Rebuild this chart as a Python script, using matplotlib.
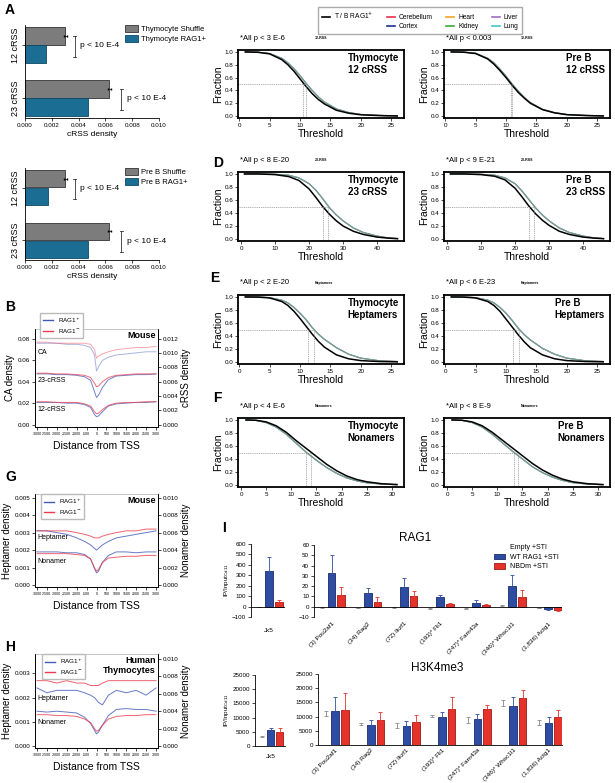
import matplotlib
matplotlib.use('Agg')
import matplotlib.pyplot as plt
from matplotlib.lines import Line2D
from matplotlib.patches import Patch
import numpy as np

plt.rcParams['font.family'] = ['Liberation Sans', 'DejaVu Sans']
plt.rcParams['axes.linewidth'] = 0.6
plt.rcParams['xtick.major.width'] = 0.5
plt.rcParams['ytick.major.width'] = 0.5
plt.rcParams['xtick.major.size'] = 2
plt.rcParams['ytick.major.size'] = 2
plt.rcParams['xtick.major.pad'] = 1.5
plt.rcParams['ytick.major.pad'] = 1.5

# ---------------- data ----------------
# A: cRSS density (12 cRSS, 23 cRSS)
thy_shuffle = [0.0030, 0.0063]
thy_shuffle_err = [0.0001, 0.0001]
thy_rag = [0.0016, 0.0047]
preb_shuffle = [0.0030, 0.0063]
preb_shuffle_err = [0.0001, 0.0001]
preb_rag = [0.0017, 0.0047]

# C-F: cumulative fraction vs threshold
tissues = ['Cerebellum', 'Cortex', 'Heart', 'Kidney', 'Liver', 'Lung']
x12 = [1, 3, 5, 7, 8, 9, 10, 11, 12, 13, 14, 16, 18, 20, 23, 26]
thy12_black = [1.00, 0.995, 0.97, 0.88, 0.80, 0.70, 0.58, 0.46, 0.35, 0.26, 0.19, 0.09, 0.045, 0.02, 0.008, 0.002]
thy12_tissue = [1.00, 0.997, 0.975, 0.90, 0.83, 0.74, 0.63, 0.51, 0.40, 0.30, 0.22, 0.11, 0.055, 0.025, 0.010, 0.003]
thy12_guides = [10.5, 11.0]
preb12_black = [1.00, 0.996, 0.975, 0.89, 0.81, 0.71, 0.60, 0.48, 0.37, 0.28, 0.20, 0.10, 0.05, 0.022, 0.009, 0.002]
preb12_tissue = [1.00, 0.997, 0.978, 0.90, 0.83, 0.73, 0.62, 0.50, 0.39, 0.29, 0.21, 0.105, 0.052, 0.024, 0.010, 0.003]
preb12_guides = [10.8, 11.0]

x23 = [1, 5, 10, 14, 17, 20, 22, 24, 26, 28, 30, 33, 36, 40, 43, 46]
thy23_black = [1.00, 1.00, 0.99, 0.96, 0.90, 0.77, 0.64, 0.50, 0.38, 0.28, 0.20, 0.12, 0.07, 0.03, 0.015, 0.005]
thy23_tissue = [1.00, 1.00, 0.995, 0.98, 0.94, 0.85, 0.75, 0.62, 0.48, 0.37, 0.28, 0.17, 0.10, 0.045, 0.02, 0.008]
thy23_guides = [24.0, 25.7]
preb23_black = [1.00, 1.00, 0.99, 0.965, 0.91, 0.78, 0.65, 0.51, 0.39, 0.29, 0.21, 0.12, 0.07, 0.03, 0.015, 0.005]
preb23_tissue = [1.00, 1.00, 0.995, 0.98, 0.94, 0.85, 0.74, 0.61, 0.48, 0.37, 0.28, 0.17, 0.10, 0.045, 0.02, 0.008]
preb23_guides = [24.1, 25.6]

xhep = [1, 3, 5, 7, 8, 9, 10, 11, 12, 13, 14, 16, 18, 20, 23, 26]
thyhep_black = [1.00, 0.998, 0.985, 0.93, 0.87, 0.78, 0.67, 0.55, 0.43, 0.32, 0.23, 0.11, 0.05, 0.022, 0.008, 0.003]
thyhep_tissue = [1.00, 0.999, 0.99, 0.95, 0.91, 0.84, 0.75, 0.65, 0.53, 0.43, 0.35, 0.22, 0.12, 0.06, 0.02, 0.008]
thyhep_guides = [11.3, 12.3]
prebhep_black = [1.00, 0.998, 0.985, 0.93, 0.87, 0.78, 0.66, 0.54, 0.42, 0.31, 0.22, 0.11, 0.05, 0.022, 0.008, 0.003]
prebhep_tissue = [1.00, 0.999, 0.99, 0.95, 0.91, 0.84, 0.75, 0.64, 0.52, 0.42, 0.34, 0.21, 0.12, 0.06, 0.02, 0.008]
prebhep_guides = [11.2, 12.2]

xnon = [1, 3, 5, 7, 9, 11, 13, 14, 15, 17, 19, 21, 23, 25, 28, 31]
thynon_black = [1.00, 0.995, 0.97, 0.91, 0.81, 0.68, 0.56, 0.50, 0.44, 0.32, 0.22, 0.14, 0.085, 0.05, 0.02, 0.008]
thynon_tissue = [1.00, 0.993, 0.96, 0.89, 0.78, 0.64, 0.50, 0.44, 0.38, 0.27, 0.18, 0.11, 0.065, 0.035, 0.015, 0.005]
thynon_guides = [13.0, 14.0]
prebnon_black = [1.00, 0.995, 0.97, 0.91, 0.81, 0.69, 0.57, 0.51, 0.45, 0.33, 0.23, 0.15, 0.09, 0.05, 0.02, 0.008]
prebnon_tissue = [1.00, 0.993, 0.96, 0.89, 0.78, 0.65, 0.52, 0.46, 0.40, 0.28, 0.19, 0.12, 0.07, 0.037, 0.015, 0.005]
prebnon_guides = [13.3, 14.1]

# B, G, H: density around TSS
tss_x = [-3000, -2500, -2000, -1500, -1000, -600, -300, -100, 0, 100, 300, 600, 1000, 1500, 2000, 2500, 3000]
ca_pos = [0.076, 0.076, 0.076, 0.075, 0.075, 0.074, 0.072, 0.065, 0.050, 0.054, 0.060, 0.063, 0.065, 0.066, 0.067, 0.068, 0.068]
ca_neg = [0.077, 0.077, 0.076, 0.076, 0.076, 0.076, 0.075, 0.070, 0.062, 0.064, 0.066, 0.068, 0.070, 0.071, 0.072, 0.072, 0.073]
c23_pos = [0.0071, 0.0071, 0.0070, 0.0070, 0.0069, 0.0067, 0.0062, 0.0046, 0.0038, 0.0041, 0.0052, 0.0063, 0.0068, 0.0069, 0.0070, 0.0070, 0.0071]
c23_neg = [0.0072, 0.0072, 0.0071, 0.0071, 0.0070, 0.0069, 0.0066, 0.0058, 0.0053, 0.0054, 0.0060, 0.0066, 0.0069, 0.0070, 0.0071, 0.0071, 0.0071]
c12_pos = [0.0031, 0.0031, 0.0031, 0.0030, 0.0030, 0.0028, 0.0024, 0.0014, 0.0011, 0.0012, 0.0018, 0.0026, 0.0029, 0.0030, 0.0031, 0.0031, 0.0032]
c12_neg = [0.0032, 0.0032, 0.0031, 0.0031, 0.0031, 0.0029, 0.0026, 0.0018, 0.0015, 0.0016, 0.0021, 0.0027, 0.0030, 0.0031, 0.0031, 0.0032, 0.0032]

ms_hep_pos = [0.0031, 0.0031, 0.0030, 0.0029, 0.0027, 0.0025, 0.0023, 0.0021, 0.0020, 0.0021, 0.0023, 0.0025, 0.0027, 0.0028, 0.0029, 0.0030, 0.0031]
ms_hep_neg = [0.0031, 0.0031, 0.0031, 0.0031, 0.0030, 0.0029, 0.0028, 0.0027, 0.0027, 0.0027, 0.0028, 0.0029, 0.0030, 0.0031, 0.0031, 0.0032, 0.0032]
ms_non_pos = [0.0038, 0.0038, 0.0038, 0.0037, 0.0037, 0.0035, 0.0030, 0.0019, 0.0014, 0.0016, 0.0026, 0.0034, 0.0038, 0.0038, 0.0037, 0.0038, 0.0038]
ms_non_neg = [0.0036, 0.0036, 0.0036, 0.0036, 0.0035, 0.0034, 0.0030, 0.0020, 0.0016, 0.0018, 0.0026, 0.0031, 0.0032, 0.0033, 0.0033, 0.0034, 0.0034]

hs_hep_pos = [0.0024, 0.0022, 0.0023, 0.0023, 0.0023, 0.0022, 0.0021, 0.0020, 0.0019, 0.0018, 0.0017, 0.0021, 0.0023, 0.0022, 0.0023, 0.0021, 0.0024]
hs_hep_neg = [0.0027, 0.0027, 0.0026, 0.0027, 0.0026, 0.0026, 0.0025, 0.0025, 0.0025, 0.0025, 0.0026, 0.0027, 0.0027, 0.0027, 0.0027, 0.0027, 0.0027]
hs_non_pos = [0.0040, 0.0039, 0.0040, 0.0039, 0.0038, 0.0033, 0.0026, 0.0018, 0.0014, 0.0016, 0.0024, 0.0035, 0.0042, 0.0043, 0.0042, 0.0042, 0.0040]
hs_non_neg = [0.0036, 0.0036, 0.0035, 0.0035, 0.0034, 0.0031, 0.0027, 0.0020, 0.0017, 0.0018, 0.0024, 0.0031, 0.0034, 0.0035, 0.0035, 0.0036, 0.0036]

# I: ChIP
genes = ['(3) Pou2af1', '(34) Rag2', '(72) Ikzf1', '(193)* Fli1', '(247)* Fam43a', '(346)* Whsc1l1', '(1,836) Actg1']
rag_jk = [-5, 345, 45]
rag_jk_err = [3, 135, 20]
rag_empty = [-0.5, -1.0, -0.5, -1.5, -1.5, 1.0, -0.8]
rag_empty_err = [0.3, 0.3, 0.3, 0.3, 0.3, 1.0, 0.3]
rag_wt = [33, 13, 19, 9.5, 4, 20, -2]
rag_wt_err = [17, 5.5, 9, 2, 3, 11, 1]
rag_nb = [11.5, 4.5, 10, 3, 1.5, 9.5, -3.5]
rag_nb_err = [8, 4.5, 5, 1, 1.5, 7, 1]
h3_jk = [3300, 5500, 5000]
h3_jk_err = [200, 1000, 1500]
h3_empty = [10300, 7000, 6000, 9800, 7700, 13900, 7000]
h3_empty_err = [1800, 900, 1600, 900, 2200, 1900, 1800]
h3_wt = [11800, 7200, 6800, 9800, 9000, 13800, 7800]
h3_wt_err = [5000, 1600, 1600, 1900, 2000, 3100, 1900]
h3_nb = [12500, 8700, 8200, 12700, 12800, 16400, 9800]
h3_nb_err = [5800, 2800, 2300, 4100, 1200, 2800, 2600]

# ---------------- styles ----------------
GRAY = '#7c7c7c'
TEAL = '#1b6d93'
LBLUE = '#4058b8'
LRED = '#ee3a4c'
CBLUE = '#2f4ca3'
CRED = '#e5322b'
TCOL = ['#e8304a', '#1f2f8f', '#f2a51f', '#3aa935', '#9b6fc4', '#3ec6c6']

W, H = 615, 783
fig = plt.figure(figsize=(W / 100, H / 100), dpi=100)


def box(l, t, w, h):
    return fig.add_axes([l / W, 1 - (t + h) / H, w / W, h / H])


def ftext(x, y, s, **kw):
    fig.text(x / W, 1 - y / H, s, **kw)


# ---------------- A ----------------
def density_bars(ax, shuf, shuf_err, rag, names):
    ax.barh([0, 2.95], shuf, height=0.95, color=GRAY, edgecolor='#333333', lw=0.6,
            xerr=shuf_err, error_kw=dict(lw=0.5, capsize=1))
    ax.barh([1, 3.95], rag, height=0.95, color=TEAL, edgecolor='#0d4a66', lw=0.6)
    ax.set_ylim(4.56, -0.61)
    ax.set_xlim(0, 0.010)
    ax.set_xticks(np.arange(0, 0.0101, 0.002))
    ax.set_xticklabels(['%.3f' % v for v in np.arange(0, 0.0101, 0.002)], fontsize=4.5)
    ax.set_yticks([0.5, 3.45])
    ax.set_yticklabels(['12 cRSS', '23 cRSS'], rotation=90, va='center', fontsize=6.5)
    for s in ['top', 'right']:
        ax.spines[s].set_visible(False)
    ax.set_xlabel('cRSS density', fontsize=6, labelpad=2)
    for (x0, y0, y1) in [(0.0037, 0, 1), (0.0072, 2.95, 3.95)]:
        ax.plot([x0, x0], [y0, y1 + 0.15], color='#333333', lw=0.6, clip_on=False)
        ax.plot([x0 - 0.00012, x0 + 0.00012], [y0, y0], color='#333333', lw=0.6, clip_on=False)
        ax.plot([x0 - 0.00012, x0 + 0.00012], [y1 + 0.15, y1 + 0.15], color='#333333', lw=0.6, clip_on=False)
        ax.text(x0 + 0.0004, (y0 + y1) / 2 + 0.05, 'p < 10 E-4', fontsize=6, va='center', clip_on=False)
    h = [Patch(facecolor=GRAY, edgecolor='#333333', lw=0.6), Patch(facecolor=TEAL, edgecolor='#0d4a66', lw=0.6)]
    ax.legend(h, names, loc='upper left', bbox_to_anchor=(0.72, 1.03), fontsize=5.5, frameon=False,
              handlelength=1.8, handleheight=0.9, borderaxespad=0, labelspacing=0.3, handletextpad=0.4)


density_bars(box(25, 25, 134, 93), thy_shuffle, thy_shuffle_err, thy_rag, ['Thymocyte Shuffle', 'Thymocyte RAG1+'])
density_bars(box(25, 168, 134, 92), preb_shuffle, preb_shuffle_err, preb_rag, ['Pre B Shuffle', 'Pre B RAG1+'])

# ---------------- C-F ----------------
cdf_rows = [
    (x12, [0, 5, 10, 15, 20, 25], (-0.2, 27.1), 50, 68, '12-RSS',
     [('Thymocyte\n12 cRSS', '*All p < 3 E-6', thy12_black, thy12_tissue, thy12_guides),
      ('Pre B\n12 cRSS', '*All p < 0.003', preb12_black, preb12_tissue, preb12_guides)]),
    (x23, [0, 10, 20, 30, 40], (-0.9, 47.9), 172, 69, '23-RSS',
     [('Thymocyte\n23 cRSS', '*All p < 8 E-20', thy23_black, thy23_tissue, thy23_guides),
      ('Pre B\n23 cRSS', '*All p < 9 E-21', preb23_black, preb23_tissue, preb23_guides)]),
    (xhep, [0, 5, 10, 15, 20, 25], (-0.2, 27.1), 295, 69, 'Heptamers',
     [('Thymocyte\nHeptamers', '*All p < 2 E-20', thyhep_black, thyhep_tissue, thyhep_guides),
      ('Pre B\nHeptamers', '*All p < 6 E-23', prebhep_black, prebhep_tissue, prebhep_guides)]),
    (xnon, [0, 5, 10, 15, 20, 25, 30], (-0.6, 32.4), 418, 69, 'Nonamers',
     [('Thymocyte\nNonamers', '*All p < 4 E-6', thynon_black, thynon_tissue, thynon_guides),
      ('Pre B\nNonamers', '*All p < 8 E-9', prebnon_black, prebnon_tissue, prebnon_guides)]),
]

for xs, xt, xl, top, hgt, tag, panels in cdf_rows:
    for left, (name, ptxt, black, tissue, guides) in zip([238, 444], panels):
        ax = box(left, top, 166, hgt)
        for c in TCOL:
            ax.plot(xs, tissue, color=c, lw=0.8, alpha=0.45)
        ax.plot(xs, black, color='black', lw=1.1)
        gs = dict(color='#8a8a8a', lw=0.5, ls=(0, (1.5, 1.2)))
        ax.plot([xl[0], max(guides)], [0.5, 0.5], **gs)
        for g in guides:
            ax.plot([g, g], [-0.03, 0.5], **gs)
        ax.set_xlim(*xl)
        ax.set_ylim(-0.03, 1.03)
        ax.set_xticks(xt)
        ax.set_yticks([0, 0.2, 0.4, 0.6, 0.8, 1.0])
        ax.set_yticklabels(['0.0', '0.2', '0.4', '0.6', '0.8', '1.0'])
        ax.tick_params(labelsize=4.5)
        for s in ax.spines.values():
            s.set_linewidth(1.3)
        ax.set_xlabel('Threshold', fontsize=7.5, labelpad=1)
        ax.set_ylabel('Fraction', fontsize=7.5, labelpad=1)
        ax.text(0.97, 0.95, name, transform=ax.transAxes, ha='right', va='top', ma='left',
                fontsize=7, fontweight='bold', linespacing=1.15)
        ftext(left + 2, top - 12, ptxt, fontsize=5.5, va='center')
        ftext(left + 77, top - 12, tag, fontsize=2.5, fontweight='bold', va='center')

leg_h = [Line2D([], [], color='black', lw=1.2), Line2D([], [], color='none')]
leg_l = ['T / B RAG1$^{+}$', '']
for c, n in zip(TCOL, tissues):
    leg_h.append(Line2D([], [], color=c, lw=1.2))
    leg_l.append(n)
fig.legend(leg_h, leg_l, ncol=4, loc='upper left', bbox_to_anchor=(315 / W, 1 - 4 / H), fontsize=4.8,
           frameon=True, fancybox=False, edgecolor='#aaaaaa', framealpha=1,
           handlelength=1.2, handletextpad=0.6, columnspacing=2.0, labelspacing=0.25, borderpad=0.55)

# ---------------- B, G, H ----------------
def tss_panel(ax, left_series, right_series, ylim_left, factor, lticks, lfmt, rticks, rfmt,
              ylab_l, ylab_r, labels, title, leg_anchor):
    ax2 = ax.twinx()
    for ys, col, a in left_series:
        ax.plot(tss_x, ys, color=col, lw=0.7, alpha=a)
    for ys, col, a in right_series:
        ax2.plot(tss_x, ys, color=col, lw=0.7, alpha=a)
    ax.set_xlim(-3100, 3100)
    ax.set_ylim(*ylim_left)
    ax2.set_ylim(ylim_left[0] * factor, ylim_left[1] * factor)
    ax.set_xticks(np.arange(-3000, 3001, 500))
    ax.set_xticklabels([str(v) for v in np.arange(-3000, 3001, 500)], fontsize=2.5)
    ax.set_yticks(lticks)
    ax.set_yticklabels([lfmt % v for v in lticks], fontsize=4.5)
    ax2.set_yticks(rticks)
    ax2.set_yticklabels([rfmt % v for v in rticks], fontsize=4.5)
    ax.spines['top'].set_color('#bbbbbb')
    ax2.spines['top'].set_visible(False)
    ax.set_xlabel('Distance from TSS', fontsize=7.5, labelpad=4)
    ax.set_ylabel(ylab_l, fontsize=7, labelpad=2)
    ax2.set_ylabel(ylab_r, fontsize=7, labelpad=2)
    for txt, y in labels:
        ax.text(0.02, y, txt, transform=ax.transAxes, fontsize=5, va='center')
    ax.text(0.98, 0.98, title, transform=ax.transAxes, ha='right', va='top', fontsize=6.5,
            fontweight='bold', linespacing=1.1)
    h = [Line2D([], [], color=LBLUE, lw=1), Line2D([], [], color=LRED, lw=1)]
    ax.legend(h, ['RAG1$^{+}$', 'RAG1$^{-}$'], loc='upper left', bbox_to_anchor=leg_anchor, fontsize=4.5,
              frameon=True, fancybox=False, edgecolor='#bbbbbb', framealpha=1, handlelength=1.6,
              borderaxespad=0, labelspacing=0.35, borderpad=0.45)


tss_panel(box(35, 329, 123, 98),
          [(ca_pos, LBLUE, 0.45), (ca_neg, LRED, 0.45)],
          [(c23_pos, LBLUE, 0.75), (c23_neg, LRED, 0.75), (c12_pos, LBLUE, 0.75), (c12_neg, LRED, 0.75)],
          (-0.0023, 0.0893), 0.15, [0, 0.02, 0.04, 0.06, 0.08], '%.2f',
          [0, 0.002, 0.004, 0.006, 0.008, 0.010, 0.012], '%.3f',
          'CA density', 'cRSS density',
          [('CA', 0.76), ('23-cRSS', 0.47), ('12-cRSS', 0.18)], 'Mouse', (0.04, 1.165))

tss_panel(box(35, 494, 123, 93),
          [(ms_hep_pos, LBLUE, 0.8), (ms_hep_neg, LRED, 0.8)],
          [(ms_non_pos, LBLUE, 0.8), (ms_non_neg, LRED, 0.8)],
          (-0.0001, 0.0052), 2.0, [0, 0.001, 0.002, 0.003, 0.004, 0.005], '%.3f',
          [0, 0.002, 0.004, 0.006, 0.008, 0.010], '%.3f',
          'Heptamer density', 'Nonamer density',
          [('Heptamer', 0.53), ('Nonamer', 0.27)], 'Mouse', (0.05, 1.0))

tss_panel(box(35, 654, 123, 94),
          [(hs_hep_pos, LBLUE, 0.8), (hs_hep_neg, LRED, 0.8)],
          [(hs_non_pos, LBLUE, 0.8), (hs_non_neg, LRED, 0.8)],
          (-0.00008, 0.0038), 2.78, [0, 0.001, 0.002, 0.003], '%.3f',
          [0, 0.002, 0.004, 0.006, 0.008, 0.010], '%.3f',
          'Heptamer density', 'Nonamer density',
          [('Heptamer', 0.53), ('Nonamer', 0.27)], 'Human\nThymocytes', (0.06, 1.0))


# ---------------- I ----------------
def bars(ax, xs, vals, errs, col, ecol, ecolor):
    lo = [e if v < 0 else 0 for v, e in zip(vals, errs)]
    hi = [e if v >= 0 else 0 for v, e in zip(vals, errs)]
    ax.bar(xs, vals, width=0.8, color=col, edgecolor=ecol, lw=0.6,
           yerr=[lo, hi], error_kw=dict(lw=0.6, capsize=1.5, capthick=0.6, ecolor=ecolor))


def chip_axes(ax, ylim, yticks, zero_line):
    ax.set_ylim(*ylim)
    ax.set_yticks(yticks)
    ax.tick_params(labelsize=4.5)
    ax.tick_params(axis='x', length=0, labelsize=4.6)
    for s in ['top', 'right']:
        ax.spines[s].set_visible(False)
    if zero_line:
        ax.spines['bottom'].set_visible(False)
        ax.axhline(0, color='black', lw=0.6)


pos = np.arange(len(genes)) * 3.7
for (top_j, top_m, jk, jk_err, emp, emp_err, wt, wt_err, nb, nb_err, zl, jleft, mleft) in [
        (544, 545, rag_jk, rag_jk_err, rag_empty, rag_empty_err, rag_wt, rag_wt_err, rag_nb, rag_nb_err, True, 251, 314),
        (675, 674, h3_jk, h3_jk_err, h3_empty, h3_empty_err, h3_wt, h3_wt_err, h3_nb, h3_nb_err, False, 255, 318)]:
    hj = 73 if zl else 71
    axj = box(jleft, top_j, 285 - jleft, hj)
    bars(axj, [0], [jk[0]], [jk_err[0]], 'white', 'white', '#888888')
    bars(axj, [1], [jk[1]], [jk_err[1]], CBLUE, '#1b2a6b', CBLUE)
    bars(axj, [2], [jk[2]], [jk_err[2]], CRED, '#9b1a14', CRED)
    axj.set_xlim(-0.8, 2.6)
    axj.set_xticks([1])
    axj.set_xticklabels(['J\u03ba5'])
    axm = box(mleft, top_m, 562 - mleft, 72 if zl else 71)
    bars(axm, pos - 1, emp, emp_err, 'white', 'white', '#888888')
    bars(axm, pos, wt, wt_err, CBLUE, '#1b2a6b', CBLUE)
    bars(axm, pos + 1, nb, nb_err, CRED, '#9b1a14', CRED)
    axm.set_xlim(-1.8, 23.6)
    axm.set_xticks(pos)
    axm.set_xticklabels(genes, rotation=45, ha='right', rotation_mode='anchor')
    if zl:
        chip_axes(axj, (-100, 600), np.arange(-100, 601, 100), True)
        chip_axes(axm, (-10, 60), np.arange(-10, 61, 10), True)
        axj.tick_params(axis='x', pad=8)
        axm.tick_params(axis='x', pad=3)
        h = [Patch(facecolor='white', edgecolor='white'),
             Patch(facecolor=CBLUE, edgecolor='#1b2a6b', lw=0.6),
             Patch(facecolor=CRED, edgecolor='#9b1a14', lw=0.6)]
        axm.legend(h, ['Empty +STI', 'WT RAG1 +STI', 'NBDm +STI'], loc='upper right',
                   bbox_to_anchor=(1.0, 1.05), fontsize=5, frameon=False, handlelength=1.6,
                   handleheight=0.9, labelspacing=0.3, borderaxespad=0)
    else:
        chip_axes(axj, (0, 25000), np.arange(0, 25001, 5000), False)
        chip_axes(axm, (0, 25000), np.arange(0, 25001, 5000), False)
        axj.tick_params(axis='x', pad=6)
        axm.tick_params(axis='x', pad=2)
    axj.set_ylabel('IP/Input$_{\\mathregular{Cd11}}$', fontsize=4.5, labelpad=1)

ftext(415, 538, 'RAG1', fontsize=8.5, ha='center', va='center')
ftext(437, 668, 'H3K4me3', fontsize=8.5, ha='center', va='center')

# ---------------- panel letters ----------------
for L, x, y in [('A', 5, 10), ('B', 5, 307), ('G', 5, 477), ('H', 5, 647),
                ('D', 213, 163), ('E', 210, 278), ('F', 213, 398), ('I', 222, 528)]:
    ftext(x, y, L, fontsize=10, fontweight='bold', va='center')

fig.savefig('out.png', dpi=100)
